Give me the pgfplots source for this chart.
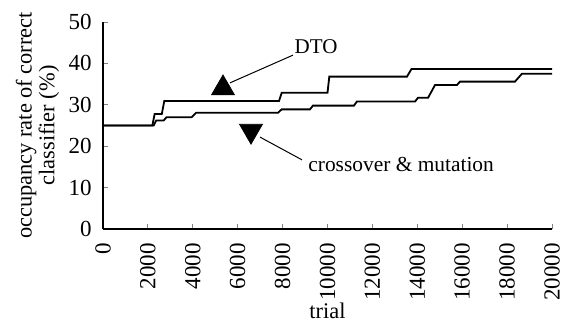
\documentclass[border=0pt]{standalone}
\usepackage{fontspec}
\setmainfont{Liberation Serif}
\usepackage{pgfplots}
\pgfplotsset{compat=1.18}
\usetikzlibrary{calc}
\begin{document}
\begin{tikzpicture}
\begin{axis}[
  name=ax,
  scale only axis,
  width=224.5pt, height=103.5pt,
  xmin=0, xmax=20000, ymin=0, ymax=50,
  axis x line=bottom, axis y line=left,
  axis line style={-, line width=0.6pt},
  tick align=inside,
  major tick length=2.5pt,
  tick style={line width=0.5pt},
  xtick={0,2000,...,20000},
  ytick={0,10,...,50},
  scaled x ticks=false,
  /pgf/number format/assume math mode=true,
  /pgf/number format/1000 sep={},
  xticklabel style={rotate=90, anchor=east, inner xsep=7pt, inner ysep=0pt, font=\fontsize{11.5}{11.5}\selectfont},
  yticklabel style={anchor=east, inner xsep=5.5pt, inner ysep=0pt, font=\fontsize{11.5}{11.5}\selectfont},
  xlabel={trial},
  xlabel style={at={(axis description cs:0.5,0)}, anchor=center, yshift=-41pt, font=\fontsize{11.2}{11.2}\selectfont},
  ylabel={occupancy rate of correct\\classifier (\%)},
  ylabel style={at={(axis description cs:-0.146,0.5)}, anchor=center, align=center, font=\fontsize{11.2}{10}\selectfont},
  clip=false,
]
\addplot[black, line width=0.9pt] coordinates {
(0,25) (2200,25) (2300,27.8) (2620,27.8) (2730,30.9) (7840,30.9) (7960,32.9) (10000,32.9) (10080,36.8) (13540,36.8) (13740,38.65) (20000,38.65)
};
\addplot[black, line width=0.9pt] coordinates {
(0,25) (2260,25) (2370,26.2) (2700,26.2) (2830,27.0) (3950,27.0) (4150,28.1) (7800,28.1) (7960,28.9) (9220,28.9) (9350,29.8) (11180,29.8) (11310,30.8) (13900,30.8) (14030,31.7) (14480,31.7) (14790,34.8) (15770,34.8) (15900,35.6) (18350,35.6) (18660,37.5) (20000,37.5)
};
\addplot[black, only marks, mark=triangle*, mark size=6.6pt] coordinates {(5345,34.0)};
\addplot[black, only marks, mark=triangle*, mark size=6.6pt, mark options={rotate=180}] coordinates {(6592,23.7)};
\draw[line width=0.5pt] (axis cs:8463,42.0) -- (axis cs:5657,35.3);
\draw[line width=0.5pt] (axis cs:6993,22.2) -- (axis cs:8864,16.7);
\node[anchor=base west, inner sep=0pt, font=\fontsize{10.5}{10.5}\selectfont] at (axis cs:8520,42.5) {DTO};
\node[anchor=base west, inner sep=0pt, font=\fontsize{10.7}{10.7}\selectfont] at (axis cs:9131,14.0) {crossover \& mutation};
\end{axis}
\path ($(ax.south west)+(-51.5pt,-50pt)$) rectangle ($(ax.north east)+(9pt,11pt)$);
\end{tikzpicture}
\end{document}
